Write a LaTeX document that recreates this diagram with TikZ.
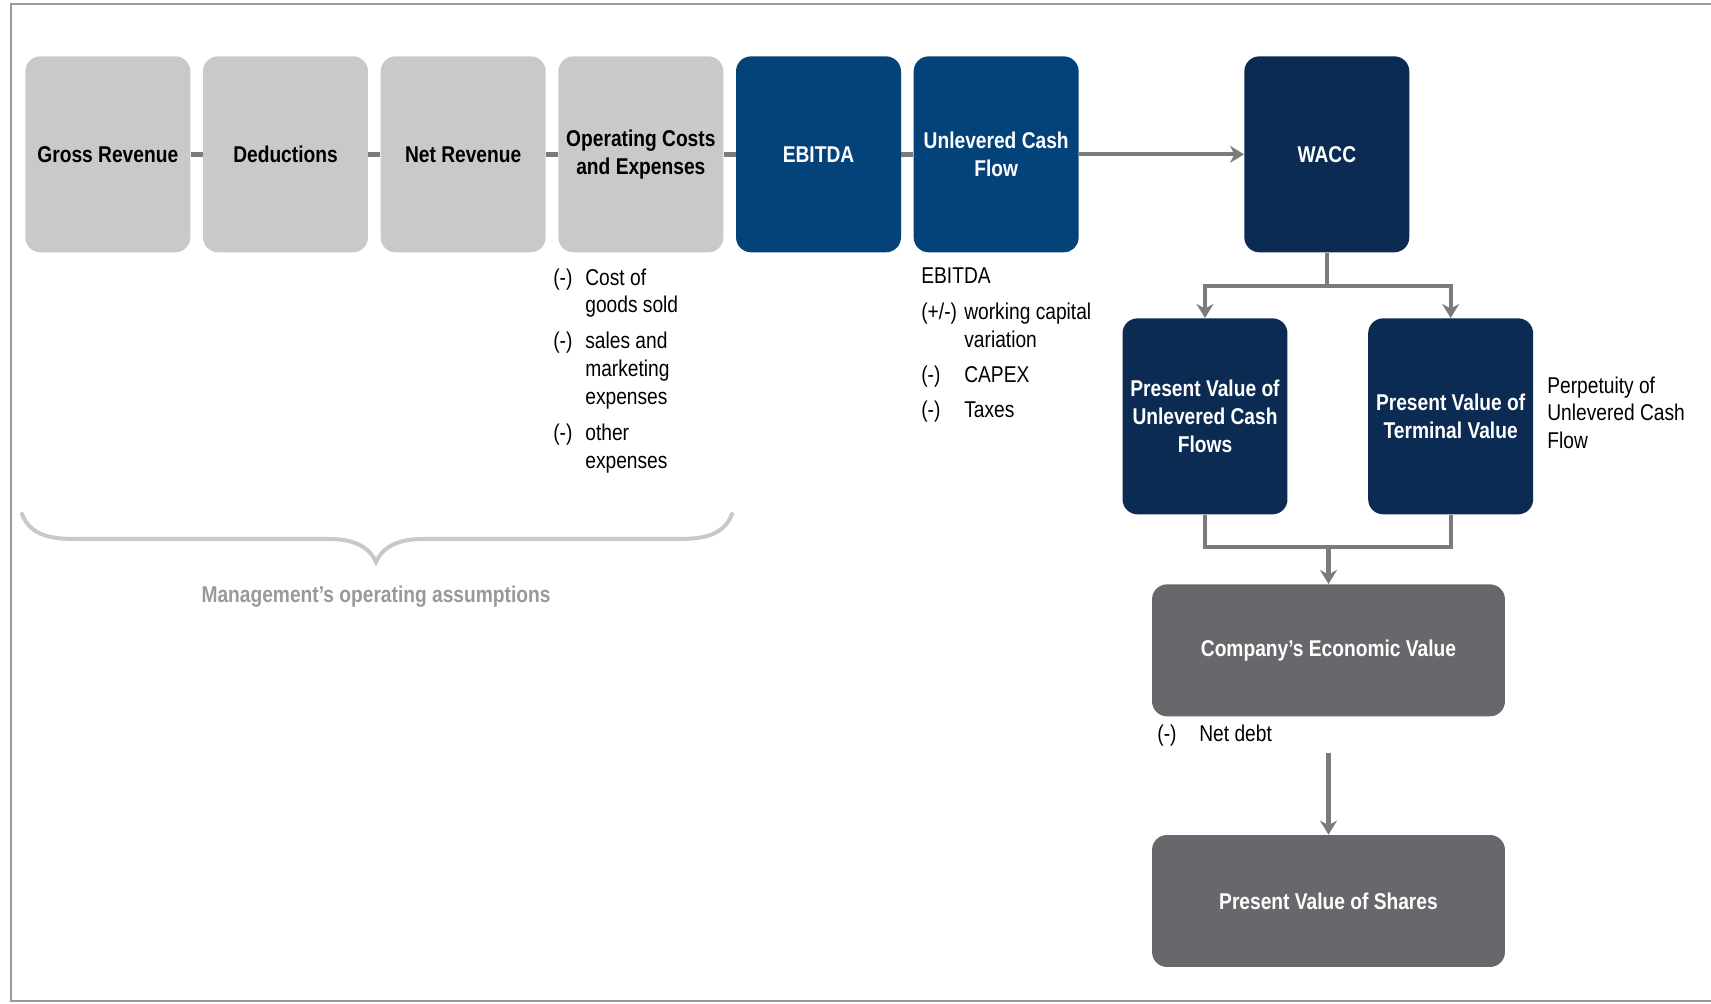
\documentclass[tikz,border=0pt]{standalone}
\usepackage{fontspec}
\setmainfont{Liberation Sans}[FakeStretch=0.84]
\usetikzlibrary{arrows.meta, positioning}
\definecolor{boxgray}{HTML}{C8C9CB}
\definecolor{boxblue}{HTML}{04437A}
\definecolor{boxnavy}{HTML}{0B2B53}
\definecolor{boxdark}{HTML}{67686B}
\definecolor{linegray}{HTML}{7B7B7B}
\definecolor{bracegray}{HTML}{C9C9C9}
\definecolor{framegray}{HTML}{9A9A9A}
\definecolor{notegray}{HTML}{999999}
\newcommand{\boxfont}{\fontsize{13}{15.9}\selectfont\bfseries}
\newcommand{\notefont}{\fontsize{13}{15.9}\selectfont}
\tikzset{
  boxt/.style 2 args={rectangle,rounded corners=0.3cm,fill=#1,text=#2,
    minimum width=3.3cm,minimum height=3.92cm,inner sep=1pt,align=center,font=\boxfont},
  widebox/.style={rectangle,rounded corners=0.3cm,fill=boxdark,text=white,
    minimum width=7.06cm,minimum height=2.64cm,inner sep=1pt,align=center,font=\boxfont},
  note/.style={inner sep=0pt,anchor=base west,font=\notefont},
  link/.style={line width=2.8pt,linegray},
  conn/.style={line width=2.4pt,linegray},
  arrow/.style={conn,-{Stealth[length=2.8mm,width=3.4mm]}},
}

\begin{document}
\begin{tikzpicture}[x=0.02cm,y=-0.02cm]
    \useasboundingbox (0,0) rectangle (1711,1004);
    \draw[framegray,line width=1.5pt] (1711,4) -- (11,4) -- (11,1001) -- (1711,1001);

    \node[boxt={boxgray}{black},anchor=north west] (gross) at (25,56) {Gross Revenue};
    \node[boxt={boxgray}{black},right=0.24cm of gross] (deduct) {Deductions};
    \node[boxt={boxgray}{black},right=0.24cm of deduct] (netrev) {Net Revenue};
    \node[boxt={boxgray}{black},right=0.24cm of netrev] (opcost) {Operating Costs\\and Expenses};
    \node[boxt={boxblue}{white},right=0.24cm of opcost] (ebitda) {EBITDA};
    \node[boxt={boxblue}{white},right=0.24cm of ebitda] (ucf) {Unlevered Cash\\Flow};
    \node[boxt={boxnavy}{white},right=3.3cm of ucf] (wacc) {WACC};
    \foreach \a/\b in {gross/deduct,deduct/netrev,netrev/opcost,opcost/ebitda,ebitda/ucf}
      \draw[link] (\a) -- (\b);
    \draw[arrow] (ucf) -- (wacc);

    \node[note] (ocnote) at (553,285) {\begin{tabular}[t]{@{}p{0.64cm}@{}l@{}}
      (-) & Cost of\\ & goods sold\\[0.16cm]
      (-) & sales and\\ & marketing\\ & expenses\\[0.16cm]
      (-) & other\\ & expenses
    \end{tabular}};
    \node[note] (ucfnote) at (921,283) {\begin{tabular}[t]{@{}p{0.86cm}@{}l@{}}
      \multicolumn{2}{@{}l@{}}{EBITDA}\\[0.18cm]
      (+/-) & working capital\\ & variation\\[0.14cm]
      (-) & CAPEX\\[0.14cm]
      (-) & Taxes
    \end{tabular}};

    \draw[bracegray,line width=2.3pt,line cap=round] (22,514) .. controls (30,535) and (50,539) .. (75,539)
      -- (330,539) .. controls (355,539) and (370,548) .. (376,562)
      .. controls (382,548) and (397,539) .. (422,539) -- (679,539)
      .. controls (704,539) and (724,535) .. (732,514);
    \node[font=\boxfont,text=notegray] (mgmt) at (376,597) {Management’s operating assumptions};

    \coordinate (split) at ([yshift=-0.66cm]wacc.south);
    \node[boxt={boxnavy}{white},anchor=north] (pvucf) at (1205,318) {Present Value of\\Unlevered Cash\\Flows};
    \node[boxt={boxnavy}{white},right=1.6cm of pvucf] (pvtv) {Present Value of\\Terminal Value};
    \node[note] (perp) at (1547,393) {\begin{tabular}[t]{@{}l@{}}
      Perpetuity of\\Unlevered Cash\\Flow
    \end{tabular}};
    \draw[conn] (wacc.south) -- (split);
    \draw[arrow] (split) -| (pvucf.north);
    \draw[arrow] (split) -| (pvtv.north);

    \coordinate (merge) at (1328.5,547);
    \draw[conn] (pvucf.south) |- (merge);
    \draw[conn] (pvtv.south) |- (merge);
    \node[widebox,below=0.74cm of merge] (cev) {Company’s Economic Value};
    \draw[arrow] (merge) -- (cev);

    \node[note] (netdebt) at (1157,741) {\begin{tabular}[t]{@{}p{0.84cm}@{}l@{}}
      (-) & Net debt
    \end{tabular}};
    \node[widebox,below=2.36cm of cev] (pvs) {Present Value of Shares};
    \coordinate (ndtop) at ([yshift=-0.72cm]cev.south);
    \draw[arrow] (ndtop) -- (pvs);
\end{tikzpicture}
\end{document}
